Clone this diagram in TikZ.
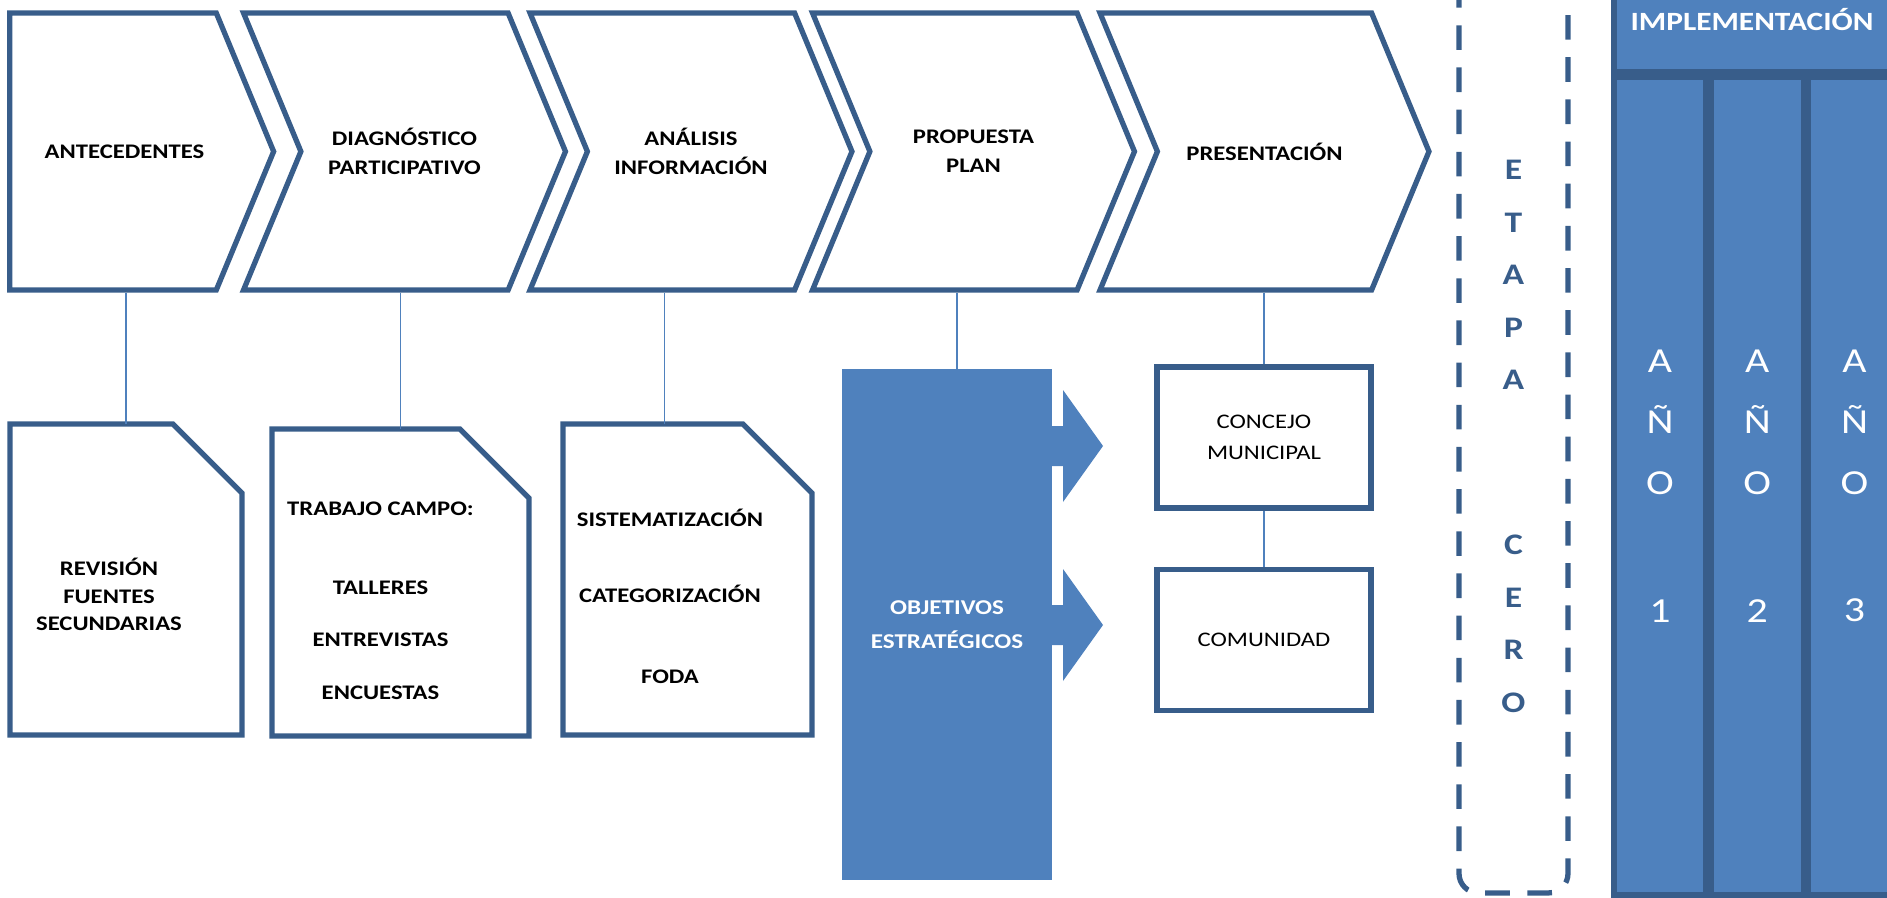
\documentclass[tikz,border=0pt]{standalone}
\usepackage{fontspec}
\setmainfont{Carlito}[FakeStretch=1.19]
\usepackage{tikz}
\usetikzlibrary{positioning}
\usetikzlibrary{shapes.symbols}
\definecolor{azulborde}{HTML}{385D8A}
\definecolor{azulrelleno}{HTML}{4F81BD}

\begin{document}
\begin{tikzpicture}[x=0.02cm,y=-0.02cm]
\tikzstyle{fase}=[signal,signal to=east,signal from=west,signal pointer angle=135,draw=azulborde,line width=3pt,minimum height=5.54cm,minimum width=6.44cm,align=center,inner sep=0pt,font=\fontsize{11.8}{16.5}\selectfont\bfseries]
\tikzstyle{hoja}=[rectangle,inner sep=0pt,outer sep=0pt]
\tikzstyle{hojaborde}=[draw=azulborde,line width=3pt,line join=miter]
\tikzstyle{texto}=[align=center,inner sep=0pt,font=\fontsize{11.8}{15.6}\selectfont\bfseries]
\tikzstyle{destino}=[rectangle,draw=azulborde,line width=3pt,minimum width=4.28cm,minimum height=2.82cm,align=center,font=\fontsize{11.8}{17.6}\selectfont]
\tikzstyle{anio}=[rectangle,draw=azulborde,fill=azulrelleno,line width=3pt,minimum width=1.84cm,minimum height=16.36cm,text=white,align=center,font=\fontsize{20}{34.7}\selectfont]
\tikzstyle{enlace}=[draw=azulrelleno,line width=0.9pt]
\useasboundingbox (0,0) rectangle (1887,897);
\clip (0,0) rectangle (1887,897);

% etapas del plan
\node[fase,signal from=nowhere,minimum width=5.28cm] (ante) at (113,151.5) {\hspace*{0.46cm}ANTECEDENTES};
\node[fase] (diag) at (404.5,151.5) {DIAGNÓSTICO\\PARTICIPATIVO};
\node[fase] (anal) at (691,151.5) {ANÁLISIS\\INFORMACIÓN};
\node[fase] (prop) at (973.5,151.5) {PROPUESTA\\PLAN};
\node[fase,minimum width=6.58cm] (pres) at (1264.5,151.5) {PRESENTACIÓN};

% actividades (hojas con esquina cortada)
\node[hoja,minimum width=4.64cm,minimum height=6.22cm] (revi) at (126,579.5) {};
\node[hoja,minimum width=5.14cm,minimum height=6.14cm] (camp) at (400.5,582.5) {};
\node[hoja,minimum width=4.98cm,minimum height=6.22cm] (sist) at (687.5,579.5) {};
\foreach \n in {revi,camp,sist}
  \draw[hojaborde] (\n.south west) -- (\n.north west) -- ([xshift=-1.38cm]\n.north east) -- ([yshift=-1.38cm]\n.north east) -- (\n.south east) -- cycle;
\node[texto] (revit) at ([xshift=-0.34cm,yshift=-0.3cm]revi.center) {REVISIÓN\\FUENTES\\SECUNDARIAS};
\node[texto] (campt) at ([xshift=-0.4cm,yshift=-0.37cm]camp.center) {TRABAJO CAMPO:\\[29pt]TALLERES\\[14pt]ENTREVISTAS\\[15pt]ENCUESTAS};
\node[texto] (sistt) at ([xshift=-0.35cm,yshift=-0.33cm]sist.center) {SISTEMATIZACIÓN\\[28pt]CATEGORIZACIÓN\\[30pt]FODA};

\node[fill=azulrelleno,minimum width=4.2cm,minimum height=10.22cm,inner sep=0pt,align=center,text=white,font=\fontsize{12}{19.3}\selectfont\bfseries] (obje) at (947,624.5) {OBJETIVOS\\ESTRATÉGICOS};
\foreach \yy in {446,625}
  \fill[azulrelleno] (1040,\yy-20) -- (1063,\yy-20) -- (1063,\yy-56) -- (1103,\yy) -- (1063,\yy+56) -- (1063,\yy+20) -- (1040,\yy+20) -- cycle;

\node[destino] (conc) at (1264,437.5) {CONCEJO\\MUNICIPAL};
\node[destino,below=1.12cm of conc] (comu) {COMUNIDAD};

% etapa cero
\node[draw=azulborde,line width=3pt,dash pattern=on 14pt off 10pt,rounded corners=11pt,minimum width=2.18cm,minimum height=18.26cm,align=center,text=azulborde,font=\fontsize{17}{29.9}\selectfont\bfseries] (cero) at (1513.5,436.5) {E\\T\\A\\P\\A\\[64pt]C\\E\\R\\O};

% implementacion
\node[anio] (an1) at (1660,486) {A\\Ñ\\O\\[38pt]1};
\node[anio,right=0pt of an1] (an2) {A\\Ñ\\O\\[38pt]2};
\node[anio,right=0pt of an2] (an3) {A\\Ñ\\O\\[38pt]3};
\node[anio,minimum width=5.52cm,minimum height=2.08cm,anchor=south west,font=\fontsize{15}{18}\selectfont\bfseries] (impl) at (an1.north west) {IMPLEMENTACIÓN};

% enlaces
\draw[enlace] (revi.north) -- (revi.north |- ante.south);
\draw[enlace] (camp.north) -- (camp.north |- diag.south);
\draw[enlace] ([xshift=-0.46cm]sist.north) -- ([xshift=-0.46cm]sist.north |- anal.south);
\draw[enlace] ([xshift=0.2cm,yshift=-0.66cm]obje.north) -- ([xshift=0.2cm]obje.north |- prop.south);
\draw[enlace] (conc.north) -- (conc.north |- pres.south);
\draw[enlace] (conc.south) -- (comu.north);
\end{tikzpicture}
\end{document}
